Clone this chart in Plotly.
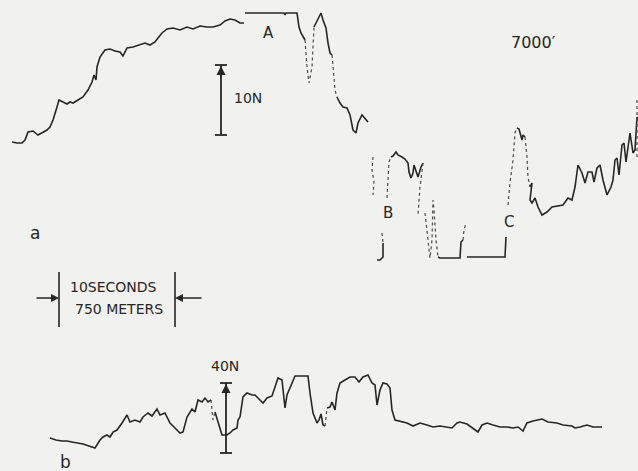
import plotly.graph_objects as go

# Force records drawn on a page-sized frame: x grows to the right, y grows downward.
W, H = 638, 471
INK = "#262626"
FAINT = "#4a4a4a"
PAPER = "#f1f1ef"

# ---- record a (7000 ft) ----
a_rise = [(12, 142), (17, 143), (22, 143), (25, 140), (28, 132), (33, 131), (38, 135), (42, 133),
          (47, 130), (50, 127), (53, 120), (57, 107), (59, 100), (63, 102), (67, 104), (70, 102),
          (73, 103), (78, 100), (83, 97), (88, 90), (92, 82), (94, 75), (96, 80), (97, 67),
          (100, 57), (105, 50), (110, 49), (115, 51), (120, 52), (123, 56), (127, 48), (133, 47),
          (140, 45), (145, 43), (150, 45), (155, 42), (158, 38), (162, 33), (167, 29), (173, 28),
          (180, 30), (187, 27), (193, 29), (200, 26), (207, 27), (213, 27), (220, 25), (225, 21),
          (230, 19), (235, 20), (240, 23), (244, 23)]
a_plateau = [(245, 13), (284, 13), (285, 15), (286, 13), (297, 13), (299, 27), (301, 33),
             (303, 37), (305, 40)]
a_drop1 = [(305, 40), (307, 67), (309, 83), (312, 67), (314, 27)]
a_peak = [(314, 27), (315, 25), (318, 18), (321, 13), (323, 20), (326, 28), (328, 43),
          (330, 53), (332, 55)]
a_drop2 = [(332, 55), (334, 75), (335, 90), (337, 97)]
a_tail = [(337, 97), (340, 103), (343, 107), (347, 108), (350, 115), (353, 130), (356, 133),
          (358, 123), (362, 115), (365, 118), (368, 122)]
a_gap_left = [(373, 157), (372, 170), (374, 182), (373, 195)]
a_b_dots = [(382, 233), (383, 243)]
a_b_hook = [(383, 243), (383, 257), (380, 260), (377, 260)]
a_b_up = [(387, 198), (388, 180), (389, 162), (391, 157)]
a_b_top = [(391, 157), (393, 156), (396, 152), (398, 155), (402, 157), (405, 159), (408, 163),
           (409, 172), (411, 178), (413, 173), (414, 165), (416, 172), (418, 177), (421, 167),
           (423, 163)]
a_b_down = [(423, 163), (420, 187), (418, 215)]
a_trough = [(425, 213), (427, 230), (429, 250), (430, 258), (432, 240), (433, 200), (434, 210),
            (436, 240), (438, 257)]
a_floor1 = [(438, 257), (440, 258), (460, 258), (461, 242), (463, 240)]
a_floor1_up = [(463, 240), (464, 230), (466, 223)]
a_floor2 = [(467, 257), (505, 257), (506, 237)]
a_c_up = [(508, 205), (510, 183), (513, 160), (515, 133), (517, 128)]
a_c_top = [(517, 128), (519, 129), (522, 140), (523, 135), (525, 137)]
a_c_down = [(525, 137), (527, 157), (528, 177), (530, 187)]
a_end = [(530, 187), (532, 183), (530, 200), (532, 203), (535, 198), (538, 207), (542, 215),
         (547, 212), (552, 207), (558, 206), (563, 205), (568, 198), (572, 200), (575, 187),
         (578, 165), (582, 173), (585, 183), (588, 172), (592, 172), (594, 182), (597, 168),
         (600, 165), (603, 180), (607, 195), (611, 187), (613, 180), (615, 160), (617, 158),
         (619, 175), (622, 145), (624, 143), (626, 162), (628, 147), (630, 133), (633, 153),
         (635, 150), (637, 117), (638, 120)]
a_end_dots = [(637, 100), (637, 157)]

a_solid = [a_rise, a_plateau, a_peak, a_tail, a_b_hook, a_b_top, a_floor1, a_floor2,
           a_c_top, a_end]
a_dotted = [a_drop1, a_drop2, a_gap_left, a_b_dots, a_b_up, a_b_down, a_trough,
            a_floor1_up, a_c_up, a_c_down, a_end_dots]

# ---- record b ----
b_line = [(50, 438), (56, 440), (62, 441), (67, 441), (72, 442), (78, 443), (83, 444), (89, 446),
          (95, 448), (100, 440), (103, 437), (107, 435), (110, 437), (113, 432), (117, 430),
          (122, 423), (127, 415), (130, 422), (135, 420), (140, 422), (143, 417), (148, 413),
          (152, 416), (157, 409), (160, 415), (165, 413), (170, 423), (175, 428), (180, 433),
          (183, 432), (187, 417), (192, 409), (195, 412), (198, 400), (202, 402), (205, 398),
          (208, 402), (211, 400)]
b_dip_dots = [(211, 400), (213, 420), (215, 412)]
b_mid = [(215, 412), (218, 423), (222, 435), (227, 435), (230, 433), (233, 430), (237, 428),
         (238, 420), (240, 417), (243, 397), (247, 393), (252, 395), (255, 395), (258, 398),
         (263, 403), (267, 398), (272, 396), (275, 387), (278, 378), (282, 380), (285, 408),
         (287, 395), (292, 383), (295, 376), (307, 376), (308, 376), (310, 393), (313, 413),
         (317, 423), (319, 420), (321, 414), (323, 425), (325, 426)]
b_rise_dots = [(325, 426), (327, 408)]
b_top = [(327, 408), (330, 407), (332, 402), (335, 410), (337, 393), (340, 383), (345, 380),
         (350, 377), (355, 377), (359, 382), (363, 377), (368, 375), (372, 383), (375, 385),
         (377, 405), (380, 390), (383, 383), (387, 384), (390, 388), (392, 410), (395, 420),
         (400, 421), (407, 423), (413, 426), (420, 423), (427, 425), (433, 427), (440, 426),
         (447, 427), (452, 428), (457, 423), (460, 422), (467, 424), (473, 428), (478, 432),
         (482, 425), (487, 423), (493, 425), (500, 427), (507, 427), (513, 428), (518, 427),
         (523, 431), (527, 423), (533, 421), (542, 419), (548, 422), (557, 423), (563, 425),
         (572, 426), (575, 428), (580, 427), (587, 425), (593, 427), (602, 427)]

b_solid = [b_line, b_mid, b_top]
b_dotted = [b_dip_dots, b_rise_dots]

# ---- scale marks and lettering ----
bar_10n = dict(x=221, top=65, bottom=135, half=6)
bar_40n = dict(x=226, top=383, bottom=453, half=6)
time_bar = dict(left=59, right=175, top=272, bottom=327, arrow_y=298, reach=24)

labels = [
    ("A", 268, 33, 15), ("B", 388, 213, 15), ("C", 509, 222, 15),
    ("7000′", 533, 42, 16), ("10N", 248, 98, 14), ("40N", 225, 366, 14),
    ("a", 35, 233, 17), ("b", 65, 462, 17),
    ("10SECONDS", 113, 287, 14), ("750 METERS", 119, 309, 14),
]


def xy(points):
    return [p[0] for p in points], [p[1] for p in points]


fig = go.Figure()

for seg in a_solid + b_solid:
    xs, ys = xy(seg)
    fig.add_trace(go.Scatter(x=xs, y=ys, mode="lines",
                             line=dict(color=INK, width=1.6), hoverinfo="skip"))
for seg in a_dotted + b_dotted:
    xs, ys = xy(seg)
    fig.add_trace(go.Scatter(x=xs, y=ys, mode="lines",
                             line=dict(color=FAINT, width=1.2, dash="dot"), hoverinfo="skip"))

# I-beam force scales with an arrowhead under the top cap
for bar in (bar_10n, bar_40n):
    x, t, b, h = bar["x"], bar["top"], bar["bottom"], bar["half"]
    fig.add_trace(go.Scatter(x=[x, x, None, x - h, x + h, None, x - h, x + h],
                             y=[t, b, None, t, t, None, b, b], mode="lines",
                             line=dict(color=INK, width=1.8), hoverinfo="skip"))
    fig.add_annotation(x=x, y=t + 1, ax=x, ay=t + 14, xref="x", yref="y", axref="x", ayref="y",
                       showarrow=True, arrowhead=2, arrowsize=1, arrowwidth=1.8,
                       arrowcolor=INK, text="")

# time / distance scale
tb = time_bar
fig.add_trace(go.Scatter(x=[tb["left"], tb["left"], None, tb["right"], tb["right"]],
                         y=[tb["top"], tb["bottom"], None, tb["top"], tb["bottom"]],
                         mode="lines", line=dict(color=INK, width=1.6), hoverinfo="skip"))
for tip, tail in ((tb["left"], tb["left"] - tb["reach"]), (tb["right"], tb["right"] + tb["reach"] + 4)):
    fig.add_annotation(x=tip, y=tb["arrow_y"], ax=tail, ay=tb["arrow_y"],
                       xref="x", yref="y", axref="x", ayref="y", showarrow=True,
                       arrowhead=2, arrowsize=1, arrowwidth=1.6, arrowcolor=INK, text="")

for text, x, y, size in labels:
    fig.add_annotation(x=x, y=y, xref="x", yref="y", text=text, showarrow=False,
                       font=dict(family="DejaVu Sans", size=size, color=INK),
                       xanchor="center", yanchor="middle")

fig.update_layout(
    width=W, height=H, margin=dict(l=0, r=0, t=0, b=0),
    paper_bgcolor=PAPER, plot_bgcolor=PAPER, showlegend=False,
    xaxis=dict(range=[0, W], visible=False, fixedrange=True),
    yaxis=dict(range=[H, 0], visible=False, fixedrange=True),
)

fig.write_html("out.html", config={"displayModeBar": False})
